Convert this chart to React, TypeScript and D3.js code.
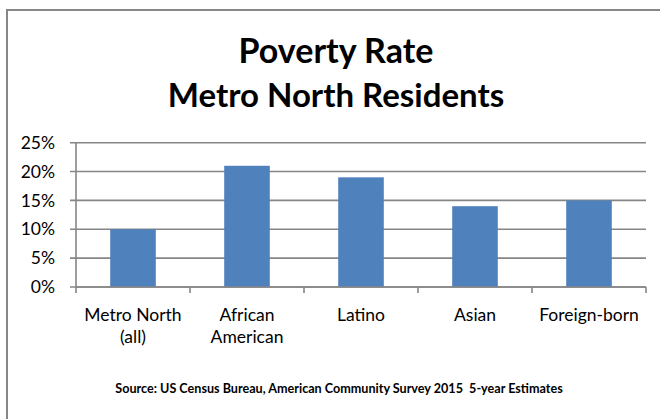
import React from "react";
import * as d3 from "d3";

const categories: string[][] = [
  ["Metro North", "(all)"],
  ["African", "American"],
  ["Latino"],
  ["Asian"],
  ["Foreign-born"],
];
const values: number[] = [0.10, 0.21, 0.19, 0.14, 0.15];
const yTicks: number[] = [0, 0.05, 0.10, 0.15, 0.20, 0.25];
const titleLines: string[] = ["Poverty Rate", "Metro North Residents"];
const sourceText = "Source: US Census Bureau, American Community Survey 2015  5-year Estimates";

const W = 660;
const H = 419;
const FONT = "Lato, 'Open Sans', sans-serif";

export default function App() {
  const left = 76, right = 646, top = 142.7, bottom = 287;
  const x = d3.scaleBand<number>().domain(d3.range(categories.length)).range([left, right]).paddingInner(0.6).paddingOuter(0.3);
  const xb = d3.scaleBand<number>().domain(d3.range(categories.length)).range([left, right]);
  const y = d3.scaleLinear().domain([0, 0.25]).range([bottom, top]);
  const fmt = d3.format(".0%");
  const grid = "#868686";

  return (
    <svg width={W} height={H} style={{ position: "absolute", left: 0, top: 0, background: "#fff" }}>
      <rect x={7} y={10} width={W + 20} height={H + 20} fill="#fff" stroke="#878787" strokeWidth={2} />
      {titleLines.map((t, i) => (
        <text key={i} x={336} y={63 + i * 44} textAnchor="middle" fontFamily={FONT} fontWeight="bold" fontSize={i === 0 ? 34 : 33} fill="#000">{t}</text>
      ))}
      {yTicks.map((v, i) => (
        <g key={i}>
          <line x1={left - 6} x2={right} y1={y(v)} y2={y(v)} stroke={grid} strokeWidth={1.6} />
          <text x={55} y={y(v)} dy="0.35em" textAnchor="end" fontFamily={FONT} fontSize={17.5} fill="#000">{fmt(v)}</text>
        </g>
      ))}
      {values.map((v, i) => (
        <rect key={i} x={x(i)} y={y(v)} width={x.bandwidth()} height={y(0) - y(v)} fill="#4F81BD" />
      ))}
      <line x1={left} x2={left} y1={top} y2={bottom} stroke={grid} strokeWidth={1.6} />
      <line x1={left} x2={right} y1={bottom} y2={bottom} stroke={grid} strokeWidth={1.6} />
      {d3.range(categories.length + 1).map((i) => {
        const xx = i < categories.length ? (xb(i) as number) : right;
        return <line key={i} x1={xx} x2={xx} y1={bottom} y2={bottom + 6} stroke={grid} strokeWidth={1.6} />;
      })}
      {categories.map((lines, i) => (
        <text key={i} x={(xb(i) as number) + xb.bandwidth() / 2} textAnchor="middle" fontFamily={FONT} fontSize={17.5} fill="#000">
          {lines.map((l, j) => (
            <tspan key={j} x={(xb(i) as number) + xb.bandwidth() / 2} y={321 + j * 22}>{l}</tspan>
          ))}
        </text>
      ))}
      <text x={339} y={393} textAnchor="middle" fontFamily={FONT} fontWeight="bold" fontSize={12.6} fill="#000" style={{ whiteSpace: "pre" }}>{sourceText}</text>
    </svg>
  );
}
